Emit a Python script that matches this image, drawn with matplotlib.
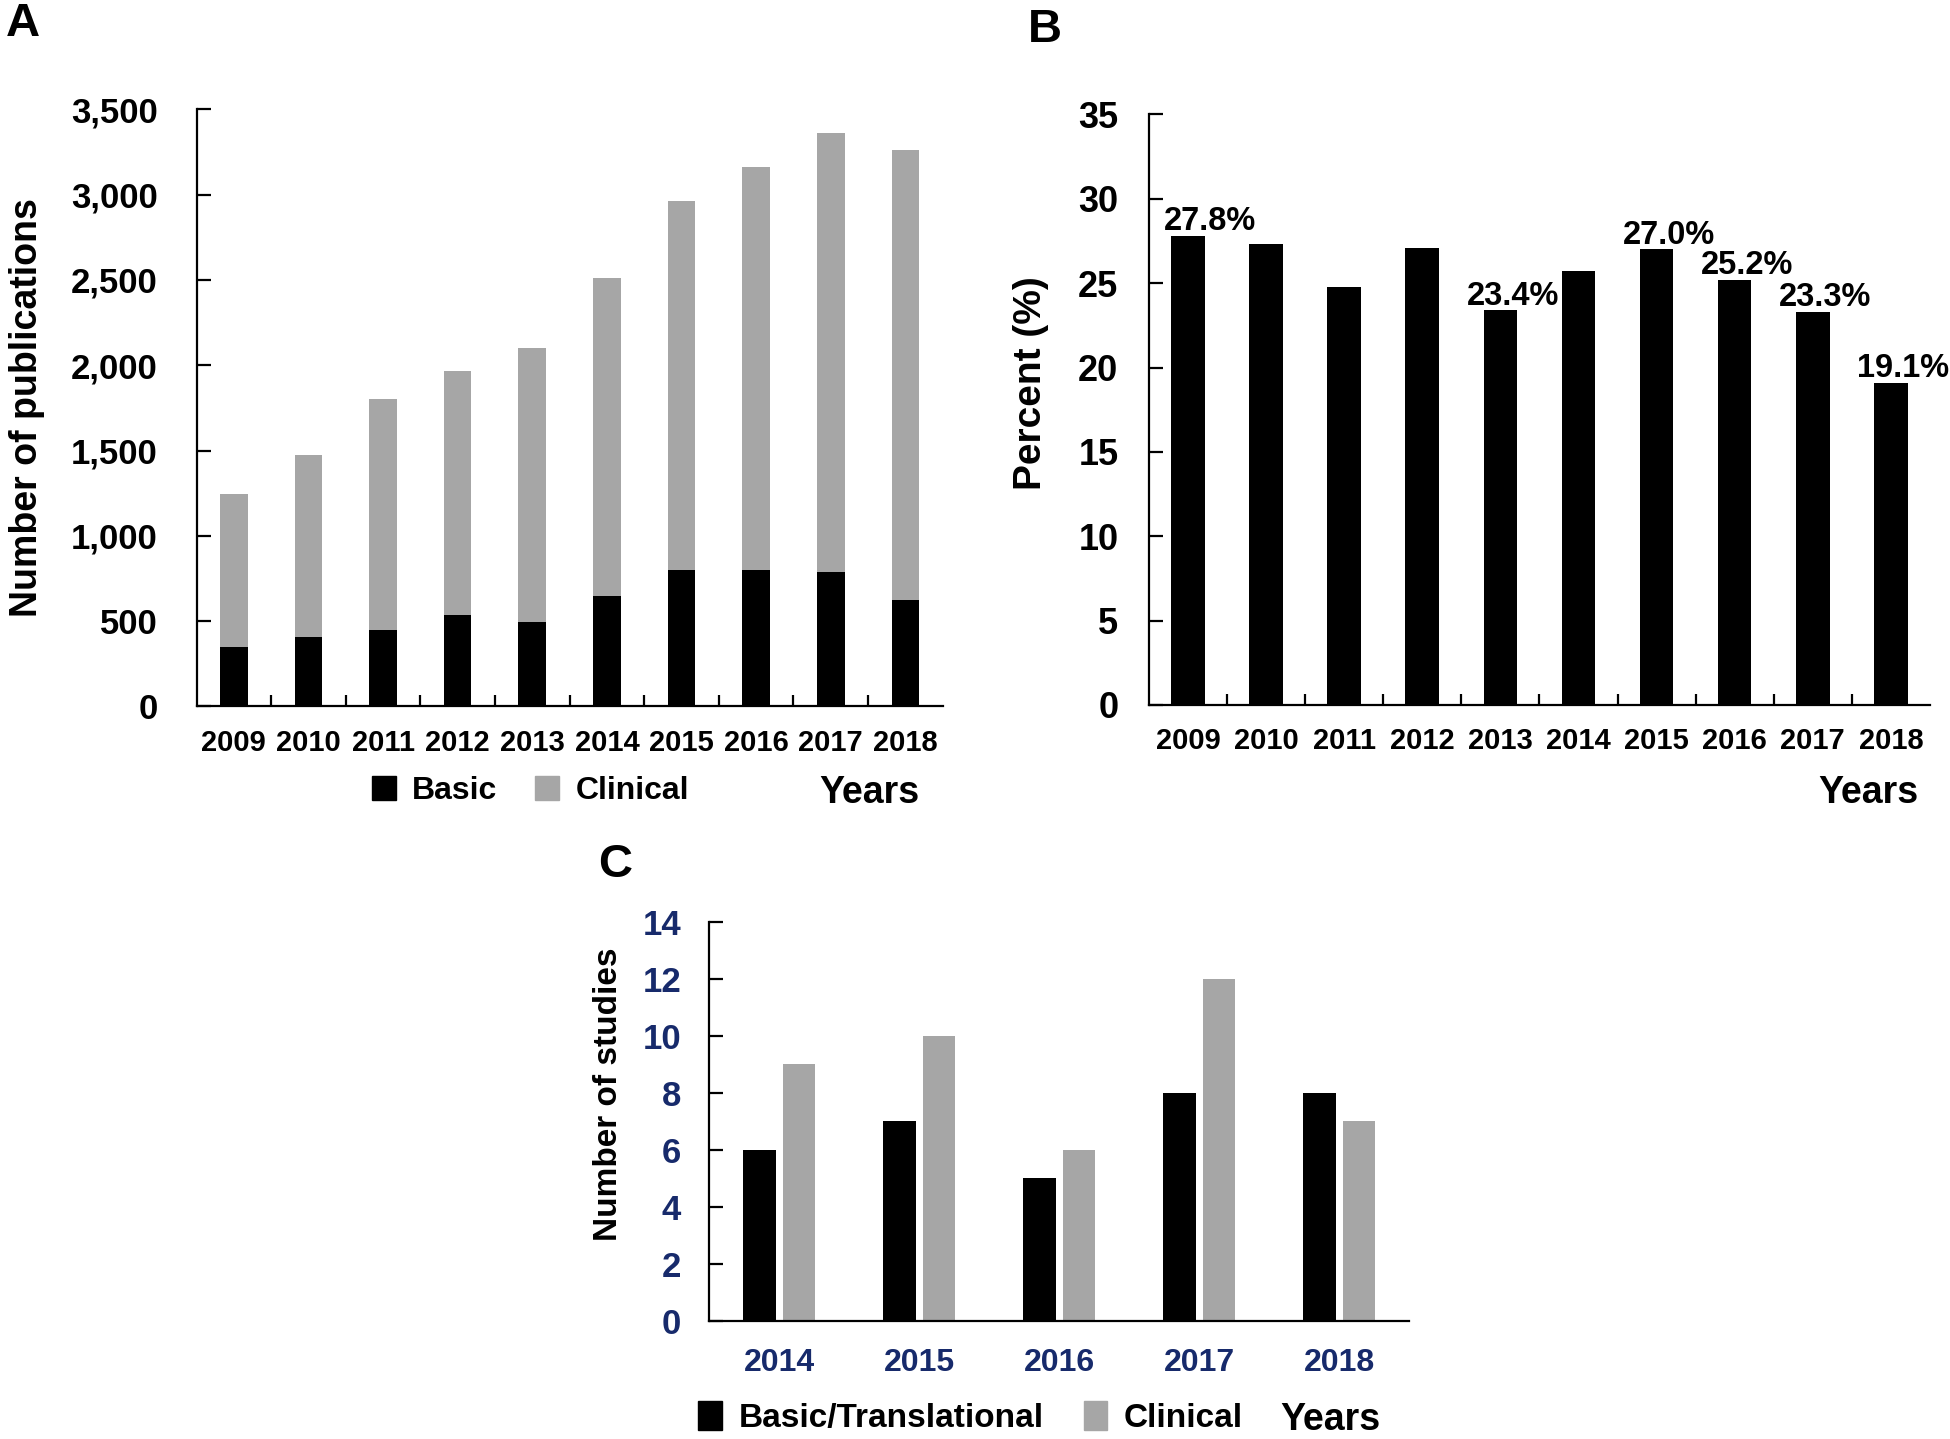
import numpy as np
import matplotlib
matplotlib.use("Agg")
import matplotlib.pyplot as plt
from matplotlib.patches import Patch
from matplotlib.ticker import FuncFormatter

plt.rcParams['font.family'] = ['Liberation Sans', 'DejaVu Sans']
plt.rcParams['font.weight'] = 'bold'

# Panel A: publications per year
years_a = ['2009', '2010', '2011', '2012', '2013', '2014', '2015', '2016', '2017', '2018']
basic_pubs = [348, 406, 448, 534, 494, 650, 802, 802, 787, 625]
total_pubs = [1248, 1474, 1800, 1965, 2099, 2514, 2963, 3164, 3362, 3262]
clinical_pubs = [t - b for t, b in zip(total_pubs, basic_pubs)]

# Panel B: percent basic (only some bars carry a label)
percent_basic = [27.8, 27.3, 24.8, 27.1, 23.4, 25.7, 27.0, 25.2, 23.3, 19.1]
labelled = {0: '27.8%', 4: '23.4%', 6: '27.0%', 7: '25.2%', 8: '23.3%', 9: '19.1%'}

# Panel C: number of studies
years_c = ['2014', '2015', '2016', '2017', '2018']
basic_studies = [6, 7, 5, 8, 8]
clinical_studies = [9, 10, 6, 12, 7]

GREY = '#a6a6a6'
NAVY = '#172a6b'

fig = plt.figure(figsize=(19.5, 14.39), dpi=100)


def style_axes(ax):
    for s in ['top', 'right']:
        ax.spines[s].set_visible(False)
    for s in ['left', 'bottom']:
        ax.spines[s].set_linewidth(1.6)


# ---- A ----
axA = fig.add_axes([0.1008, 0.5091, 0.3826, 0.4149])
x = np.arange(len(years_a))
axA.bar(x, basic_pubs, width=0.37, color='black', label='Basic')
axA.bar(x, clinical_pubs, width=0.37, bottom=basic_pubs, color=GREY, label='Clinical')
axA.set_xlim(-0.5, 9.5)
axA.set_ylim(0, 3500)
axA.set_yticks(np.arange(0, 3501, 500))
axA.yaxis.set_major_formatter(FuncFormatter(lambda v, p: f'{int(v):,}'))
axA.set_xticks(x)
axA.set_xticklabels(years_a)
axA.set_xticks(np.arange(0.5, 9, 1), minor=True)
axA.tick_params(axis='y', direction='in', length=10, width=1.6, labelsize=25, pad=28)
axA.tick_params(axis='x', which='major', length=0, labelsize=21, pad=16)
axA.tick_params(axis='x', which='minor', direction='in', length=8, width=1.6)
style_axes(axA)
fig.text(0.0139, 0.7165, 'Number of publications', rotation=90, fontsize=27,
         ha='center', va='center')
fig.text(0.0115, 0.983, 'A', fontsize=34, ha='center', va='center')
fig.legend(handles=[Patch(color='black', label='Basic'), Patch(color=GREY, label='Clinical')],
           loc='center', bbox_to_anchor=(0.272, 0.4503), ncol=2, frameon=False,
           fontsize=23, handlelength=0.75, handleheight=0.75, handletextpad=0.5,
           columnspacing=1.2)
fig.text(0.446, 0.449, 'Years', fontsize=27, ha='center', va='center')

# ---- B ----
axB = fig.add_axes([0.5892, 0.5101, 0.4005, 0.4104])
axB.bar(x, percent_basic, width=0.43, color='black')
for i, txt in labelled.items():
    dx = 16 if i == 0 else 9
    axB.annotate(txt, (x[i], percent_basic[i]), xytext=(dx, -1), textcoords='offset points',
                 ha='center', va='bottom', fontsize=23.5)
axB.set_xlim(-0.5, 9.5)
axB.set_ylim(0, 35)
axB.set_yticks(np.arange(0, 36, 5))
axB.set_xticks(x)
axB.set_xticklabels(years_a)
axB.set_xticks(np.arange(0.5, 9, 1), minor=True)
axB.tick_params(axis='y', direction='in', length=10, width=1.6, labelsize=26, pad=22)
axB.tick_params(axis='x', which='major', length=0, labelsize=21, pad=16)
axB.tick_params(axis='x', which='minor', direction='in', length=8, width=1.6)
style_axes(axB)
fig.text(0.5287, 0.734, 'Percent (%)', rotation=90, fontsize=28, ha='center', va='center')
fig.text(0.5357, 0.979, 'B', fontsize=34, ha='center', va='center')
fig.text(0.958, 0.449, 'Years', fontsize=27, ha='center', va='center')

# ---- C ----
axC = fig.add_axes([0.3636, 0.0822, 0.359, 0.2774])
xc = np.arange(len(years_c))
axC.bar(xc - 0.14, basic_studies, width=0.23, color='black')
axC.bar(xc + 0.14, clinical_studies, width=0.23, color=GREY)
axC.set_xlim(-0.5, 4.5)
axC.set_ylim(0, 14)
axC.set_yticks(np.arange(0, 15, 2))
axC.set_xticks(xc)
axC.set_xticklabels(years_c)
axC.tick_params(axis='y', direction='in', length=10, width=1.6, labelsize=25, pad=20,
                labelcolor=NAVY)
axC.tick_params(axis='x', length=0, labelsize=23, pad=20, labelcolor=NAVY)
style_axes(axC)
fig.text(0.3118, 0.2397, 'Number of studies', rotation=90, fontsize=24,
         ha='center', va='center')
fig.text(0.3157, 0.3986, 'C', fontsize=34, ha='center', va='center')
fig.legend(handles=[Patch(color='black', label='Basic/Translational'),
                    Patch(color=GREY, label='Clinical')],
           loc='center', bbox_to_anchor=(0.4977, 0.0148), ncol=2, frameon=False,
           fontsize=24, handlelength=0.7, handleheight=0.95, handletextpad=0.5,
           columnspacing=1.2)
fig.text(0.682, 0.0132, 'Years', fontsize=27, ha='center', va='center')

fig.savefig('out.png', dpi=100)
